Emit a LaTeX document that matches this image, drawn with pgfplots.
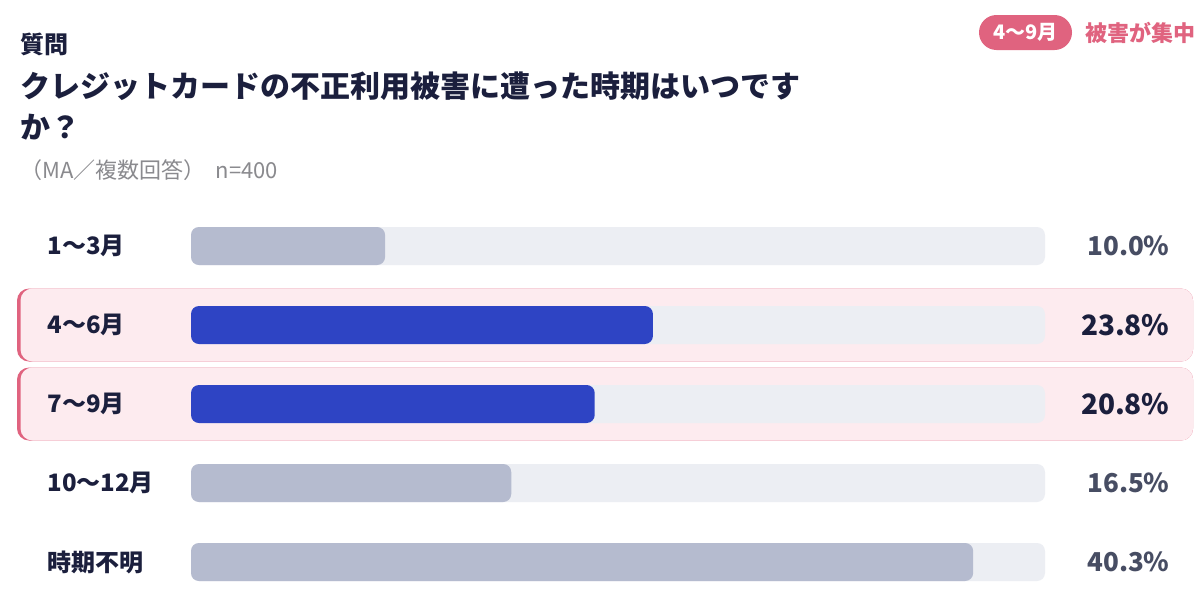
\documentclass[border=0pt]{standalone}
\usepackage{fontspec}
\setmainfont{Noto Sans CJK JP}
\usepackage{pgfplots}
\usepackage{pgfplotstable}
\pgfplotsset{compat=1.18}
\definecolor{navy}{HTML}{1B1F3D}
\definecolor{subgray}{HTML}{8A8A8E}
\definecolor{pctgray}{HTML}{474D63}
\definecolor{barblue}{HTML}{2E44C4}
\definecolor{bargray}{HTML}{B5BBCF}
\definecolor{trackc}{HTML}{ECEEF3}
\definecolor{hlbg}{HTML}{FDEBEF}
\definecolor{pinkc}{HTML}{E0637F}

% y = row index (0 = top), val = share in %, track = full length of the grey track
\pgfplotstableread{
y val track
0 10.0 44
3 16.5 44
4 40.3 44
}\normaldata
\pgfplotstableread{
y val track
1 23.8 44
2 20.8 44
}\highdata

\begin{document}
\begin{tikzpicture}[x=0.5pt,y=-0.5pt]
\fill[white] (0,0) rectangle (1200,595);
\path[use as bounding box] (0,0) rectangle (1200,595);
% highlighted rows
\foreach \yc in {325,404}{
  \fill[pinkc, rounded corners=6pt] (17,\yc-36.5) rectangle (1193,\yc+36.5);
  \fill[hlbg, rounded corners=6pt] (20.5,\yc-36.5) rectangle (1193,\yc+36.5);
}
% header
\node[anchor=west, inner sep=0, text=navy, font=\fontsize{12pt}{14pt}\selectfont\bfseries] at (20,44) {質問};
\node[anchor=west, inner sep=0, text=navy, font=\fontsize{15pt}{18pt}\selectfont\bfseries] at (20,86) {クレジットカードの不正利用被害に遭った時期はいつです};
\node[anchor=west, inner sep=0, text=navy, font=\fontsize{15pt}{18pt}\selectfont\bfseries] at (20,127) {か？};
\node[anchor=west, inner sep=0, text=subgray, font=\fontsize{11pt}{13pt}\selectfont] at (20,170) {（MA／複数回答）\hspace{5pt}n=400};
\node[fill=pinkc, rounded corners=8.75pt, minimum width=46.5pt, minimum height=17.5pt, inner sep=0, text=white, font=\fontsize{10pt}{12pt}\selectfont\bfseries] at (1025.5,32.5) {4〜9月};
\node[anchor=west, inner sep=0, text=pinkc, font=\fontsize{11pt}{13pt}\selectfont\bfseries] at (1085,32.5) {被害が集中};

\begin{axis}[
  at={(95.5pt,-123pt)}, anchor=north west,
  scale only axis, width=427pt, height=158pt,
  xmin=0, xmax=44, ymin=0, ymax=4, y dir=reverse,
  clip=false,
  axis line style={draw=none},
  xtick=\empty,
  ytick={0,1,2,3,4},
  yticklabels={1〜3月,4〜6月,7〜9月,10〜12月,時期不明},
  major tick length=0pt,
  yticklabel style={anchor=west, xshift=-72pt, inner sep=0, text=navy, font=\fontsize{12pt}{14pt}\selectfont\bfseries},
]
\addplot[xbar, bar shift=0pt, bar width=19pt, fill=trackc, draw=none, rounded corners=4pt,
  point meta=explicit symbolic,
  nodes near coords={\pgfplotspointmeta\%},
  every node near coord/.append style={anchor=east, xshift=62.5pt, inner sep=0, text=pctgray, font=\fontsize{13pt}{15pt}\selectfont\bfseries}]
  table[x=track, y=y, meta=val] {\normaldata};
\addplot[xbar, bar shift=0pt, bar width=19pt, fill=trackc, draw=none, rounded corners=4pt,
  point meta=explicit symbolic,
  nodes near coords={\pgfplotspointmeta\%},
  every node near coord/.append style={anchor=east, xshift=62.5pt, inner sep=0, text=navy, font=\fontsize{14pt}{16pt}\selectfont\bfseries}]
  table[x=track, y=y, meta=val] {\highdata};
\addplot[xbar, bar shift=0pt, bar width=19pt, fill=bargray, draw=none, rounded corners=4pt]
  table[x=val, y=y] {\normaldata};
\addplot[xbar, bar shift=0pt, bar width=19pt, fill=barblue, draw=none, rounded corners=4pt]
  table[x=val, y=y] {\highdata};
\end{axis}
\end{tikzpicture}
\end{document}
